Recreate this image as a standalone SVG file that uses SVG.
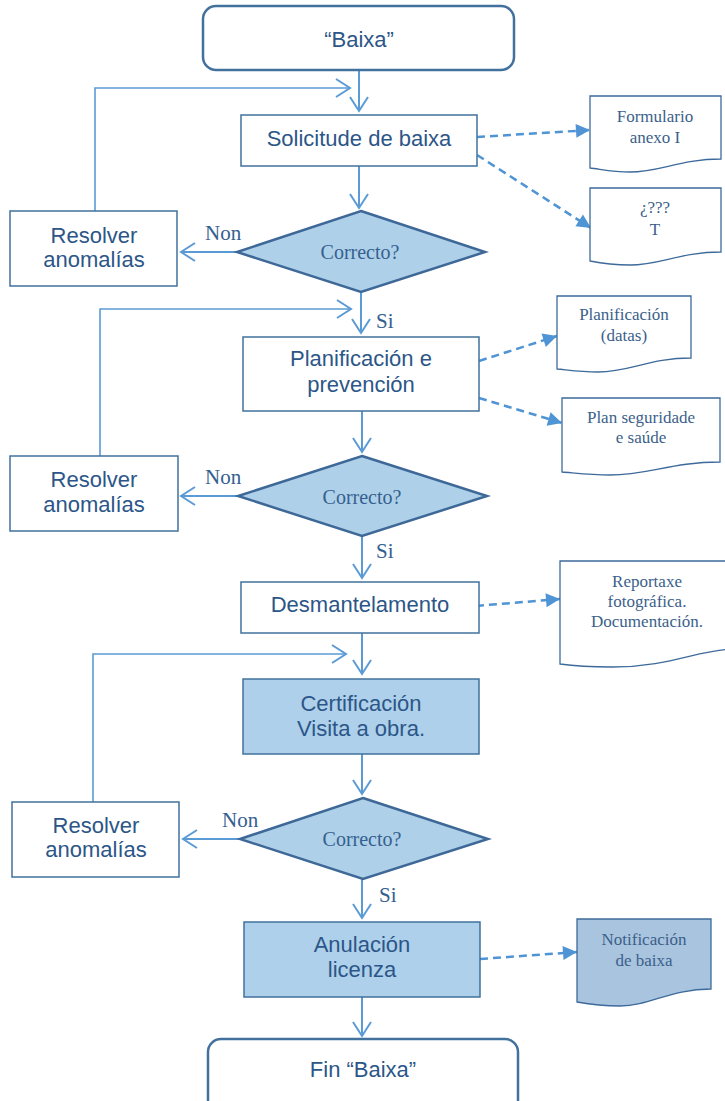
<svg xmlns="http://www.w3.org/2000/svg" width="725" height="1101" viewBox="0 0 725 1101">
<style>
.box{fill:#ffffff;stroke:#41719c;stroke-width:1.5}
.fbox{fill:#aed0ea;stroke:#41719c;stroke-width:1.5}
.term{fill:#ffffff;stroke:#41719c;stroke-width:2.5}
.dia{fill:#afd0e9;stroke:#3e6897;stroke-width:2.5}
.doc{fill:#ffffff;stroke:#3d6a9b;stroke-width:1.3}
.fdoc{fill:#a9c4df;stroke:#3d6a9b;stroke-width:1.3}
.t{font-family:"Liberation Sans",Arial,sans-serif;font-size:22px;fill:#2c5688;text-anchor:middle}
.s{font-family:"Liberation Serif","Times New Roman",serif;font-size:20px;fill:#34608f;text-anchor:middle}
.lbl{font-family:"Liberation Serif","Times New Roman",serif;font-size:21px;fill:#34608f}
.d{font-family:"Liberation Serif","Times New Roman",serif;font-size:17px;fill:#3b5f8a;text-anchor:middle}
.c{fill:none;stroke:#5b9bd5;stroke-width:2}
.cl{fill:none;stroke:#5b9bd5;stroke-width:1.6}
.dash{fill:none;stroke:#4f94d4;stroke-width:2.5;stroke-dasharray:8 5}
</style>
<defs>
<marker id="open" markerUnits="userSpaceOnUse" markerWidth="20" markerHeight="22" refX="15" refY="10" orient="auto" overflow="visible">
<path d="M1,1 L15,10 L1,19" fill="none" stroke="#5b9bd5" stroke-width="2"/>
</marker>
<marker id="fill" markerUnits="userSpaceOnUse" markerWidth="16" markerHeight="16" refX="14" refY="7" orient="auto" overflow="visible">
<path d="M0,0 L14,7 L0,14 Z" fill="#4f94d4"/>
</marker>
</defs>

<g id="connectors">
<line class="c" x1="359" y1="70" x2="359" y2="111" marker-end="url(#open)"/>
<path class="cl" d="M95,211 V88 H350" marker-end="url(#open)"/>
<line class="c" x1="359" y1="166" x2="359" y2="208" marker-end="url(#open)"/>
<line class="c" x1="237" y1="252" x2="181" y2="252" marker-end="url(#open)"/>
<line class="dash" x1="477" y1="137" x2="590" y2="130" marker-end="url(#fill)"/>
<line class="dash" x1="477" y1="155" x2="591" y2="228" marker-end="url(#fill)"/>

<line class="c" x1="361" y1="292" x2="361" y2="333" marker-end="url(#open)"/>
<path class="cl" d="M100,456 V309 H351" marker-end="url(#open)"/>
<line class="c" x1="362" y1="411" x2="362" y2="452" marker-end="url(#open)"/>
<line class="c" x1="238" y1="496" x2="181" y2="496" marker-end="url(#open)"/>
<line class="dash" x1="479" y1="361" x2="557" y2="336" marker-end="url(#fill)"/>
<line class="dash" x1="479" y1="398" x2="562" y2="423" marker-end="url(#fill)"/>

<line class="c" x1="362" y1="536" x2="362" y2="578" marker-end="url(#open)"/>
<line class="dash" x1="463" y1="607" x2="560" y2="599" marker-end="url(#fill)"/>
<line class="c" x1="362" y1="633" x2="362" y2="674" marker-end="url(#open)"/>
<path class="cl" d="M93,802 V654 H346" marker-end="url(#open)"/>
<line class="c" x1="362" y1="754" x2="362" y2="794" marker-end="url(#open)"/>
<line class="c" x1="240" y1="839" x2="183" y2="839" marker-end="url(#open)"/>

<line class="c" x1="362" y1="879" x2="362" y2="918" marker-end="url(#open)"/>
<line class="dash" x1="480" y1="959" x2="577" y2="952" marker-end="url(#fill)"/>
<line class="c" x1="362" y1="997" x2="362" y2="1036" marker-end="url(#open)"/>
</g>

<g id="labels">
<text class="lbl" x="205" y="240">Non</text>
<text class="lbl" x="376" y="328">Si</text>
<text class="lbl" x="205" y="484">Non</text>
<text class="lbl" x="376" y="558">Si</text>
<text class="lbl" x="222" y="827">Non</text>
<text class="lbl" x="379" y="902">Si</text>
</g>

<g id="start">
<rect class="term" x="203" y="6" width="311" height="64" rx="13"/>
<text class="t" x="359" y="47">“Baixa”</text>
</g>

<g id="solicitude">
<rect class="box" x="241" y="115" width="236" height="51"/>
<text class="t" x="359" y="146">Solicitude de baixa</text>
</g>

<g id="correcto1">
<polygon class="dia" points="361,211 485,252 361,292 237,252"/>
<text class="s" x="360" y="259">Correcto?</text>
</g>

<g id="resolver1">
<rect class="box" x="10" y="211" width="167" height="75"/>
<text class="t" x="94" y="243">Resolver</text>
<text class="t" x="94" y="267">anomalías</text>
</g>

<g id="doc-formulario">
<path class="doc" d="M590,96 H721 V159 C680,159 660,172 630,172 C612,172 600,169 590,168 Z"/>
<text class="d" x="655" y="122">Formulario</text>
<text class="d" x="655" y="143">anexo I</text>
</g>

<g id="doc-t">
<path class="doc" d="M590,188 H721 V252 C680,252 660,265 630,265 C612,265 600,263 590,261 Z"/>
<text class="d" x="655" y="213">¿???</text>
<text class="d" x="655" y="235">T</text>
</g>

<g id="planificacion">
<rect class="box" x="243" y="337" width="236" height="74"/>
<text class="t" x="361" y="366">Planificación e</text>
<text class="t" x="361" y="392">prevención</text>
</g>

<g id="doc-planificacion">
<path class="doc" d="M557,296 H691 V358 C650,358 630,372 598,372 C580,372 568,370 557,369 Z"/>
<text class="d" x="624" y="320">Planificación</text>
<text class="d" x="624" y="341">(datas)</text>
</g>

<g id="doc-plan">
<path class="doc" d="M562,398 H720 V462 C672,462 648,475 610,475 C590,475 575,473 562,472 Z"/>
<text class="d" x="641" y="423">Plan seguridade</text>
<text class="d" x="641" y="443">e saúde</text>
</g>

<g id="correcto2">
<polygon class="dia" points="362,456 487,496 362,536 238,496"/>
<text class="s" x="362" y="504">Correcto?</text>
</g>

<g id="resolver2">
<rect class="box" x="10" y="456" width="168" height="75"/>
<text class="t" x="94" y="487">Resolver</text>
<text class="t" x="94" y="512">anomalías</text>
</g>

<g id="desmantelamento">
<rect class="box" x="241" y="582" width="238" height="51"/>
<text class="t" x="360" y="612">Desmantelamento</text>
</g>

<g id="doc-reportaxe">
<path class="doc" d="M560,561 H735 V649 C700,649 670,667 612,667 C590,667 574,666 560,664 Z"/>
<text class="d" x="647" y="587">Reportaxe</text>
<text class="d" x="647" y="607">fotográfica.</text>
<text class="d" x="647" y="627">Documentación.</text>
</g>

<g id="certificacion">
<rect class="fbox" x="243" y="679" width="236" height="75"/>
<text class="t" x="361" y="711">Certificación</text>
<text class="t" x="361" y="736">Visita a obra.</text>
</g>

<g id="correcto3">
<polygon class="dia" points="363,798 488,839 363,879 240,839"/>
<text class="s" x="362" y="846">Correcto?</text>
</g>

<g id="resolver3">
<rect class="box" x="12" y="802" width="167" height="75"/>
<text class="t" x="96" y="833">Resolver</text>
<text class="t" x="96" y="857">anomalías</text>
</g>

<g id="anulacion">
<rect class="fbox" x="244" y="922" width="236" height="75"/>
<text class="t" x="362" y="952">Anulación</text>
<text class="t" x="362" y="977">licenza</text>
</g>

<g id="doc-notificacion">
<path class="fdoc" d="M577,919 H711 V989 C670,989 650,1006 620,1006 C600,1006 588,1004 577,1002 Z"/>
<text class="d" x="644" y="945">Notificación</text>
<text class="d" x="644" y="966">de baixa</text>
</g>

<g id="fin">
<rect class="term" x="208" y="1039" width="310" height="80" rx="13"/>
<text class="t" x="363" y="1077">Fin “Baixa”</text>
</g>
</svg>
